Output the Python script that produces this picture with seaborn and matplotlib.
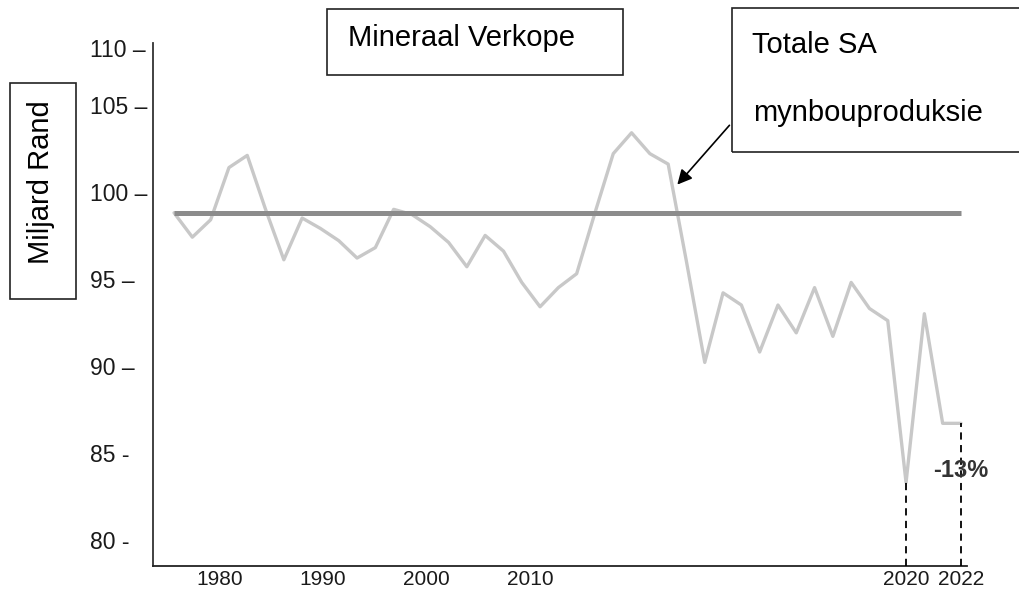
import matplotlib.pyplot as plt
import matplotlib.patches as mpatches
import seaborn as sns
import pandas as pd

sns.set_style("white")
plt.rcParams["font.family"] = ["Liberation Sans", "DejaVu Sans"]

# mineral sales (billion rand)
years = list(range(1980, 2024))
sales = [98.8, 97.4, 98.4, 101.4, 102.1, 99.0, 96.1, 98.5, 97.9, 97.2,
         96.2, 96.8, 99.0, 98.7, 98.0, 97.1, 95.7, 97.5, 96.6, 94.8,
         93.4, 94.5, 95.3, 98.8, 102.2, 103.4, 102.2, 101.6, 96.0, 90.2,
         94.2, 93.5, 90.8, 93.5, 91.9, 94.5, 91.7, 94.8, 93.3, 92.6,
         83.3, 93.0, 86.7, 86.7]
total_level = 98.8          # total SA mining production line
marked_years = [2020, 2023]  # dashed drop lines

ytick_pos = [80, 85, 90, 95, 100, 105, 108.3]
ytick_labels = ["80 -", "85 -", "90 \u2013", "95 \u2013", "100 \u2013", "105 \u2013", "110 \u2013"]
xtick_pos = [1982.5, 1988.1, 1993.8, 1999.45, 2020, 2023]
xtick_labels = ["1980", "1990", "2000", "2010", "2020", "2022"]

W, H = 1020, 592


def fx(px):
    return px / W


def fy(py):
    return 1 - py / H


fig = plt.figure(figsize=(W / 100, H / 100), dpi=100)
ax = fig.add_axes([fx(153), fy(566), fx(967) - fx(153), fy(43) - fy(566)])

df = pd.DataFrame({"year": years, "sales": sales})
sns.lineplot(data=df, x="year", y="sales", color="#c8c8c8", lw=2.4, ax=ax)
ax.hlines(total_level, years[0], years[-1], color="#8c8c8c", lw=3.6, zorder=3)

ax.set_xlim(1978.85, 2023.33)
ax.set_ylim(78.5, 108.56)

lookup = dict(zip(years, sales))
ax.vlines(marked_years, 78.5, [lookup[y] for y in marked_years],
          colors="black", linestyles=(0, (4, 3)), lw=1.3, zorder=4)
ax.text(2023, 84.0, "-13%", ha="center", va="center", fontsize=17,
        fontweight="bold", color="#333333", zorder=5)

ax.annotate("", xy=(2007.4, 100.3), xytext=(2010.45, 103.95),
            arrowprops=dict(arrowstyle="-|>", color="black", lw=1.2,
                            mutation_scale=22))

ax.set_yticks(ytick_pos, labels=ytick_labels)
ax.set_xticks(xtick_pos, labels=xtick_labels)
ax.tick_params(axis="y", length=0, pad=45.4, labelsize=16.5, colors="#1a1a1a")
ax.tick_params(axis="x", length=0, pad=3, labelsize=15, colors="#1a1a1a")
for lab in ax.get_yticklabels():
    lab.set_horizontalalignment("left")
ax.set_xlabel("")
ax.set_ylabel("")

sns.despine(ax=ax)
ax.spines["left"].set_color("#333333")
ax.spines["bottom"].set_color("#222222")
ax.spines["left"].set_linewidth(1.3)
ax.spines["bottom"].set_linewidth(1.3)


def box(x0, y0, x1, y1):
    fig.patches.append(mpatches.Rectangle(
        (fx(x0), fy(y1)), fx(x1) - fx(x0), fy(y0) - fy(y1),
        transform=fig.transFigure, fill=False, edgecolor="#222222", lw=1.2))


box(10, 83, 76, 299)
fig.text(fx(41), fy(182), "Miljard Rand", rotation=90, ha="center", va="center",
         fontsize=21, color="black")

box(327, 9, 623, 75)
fig.text(fx(348), fy(38), "Mineraal Verkope", ha="left", va="center",
         fontsize=21, color="black")

box(732, 8, 1040, 152)
fig.text(fx(752), fy(45), "Totale SA", ha="left", va="center", fontsize=21, color="black")
fig.text(fx(753), fy(113), "mynbouproduksie", ha="left", va="center", fontsize=21, color="black")

fig.savefig("out.png", dpi=100)
